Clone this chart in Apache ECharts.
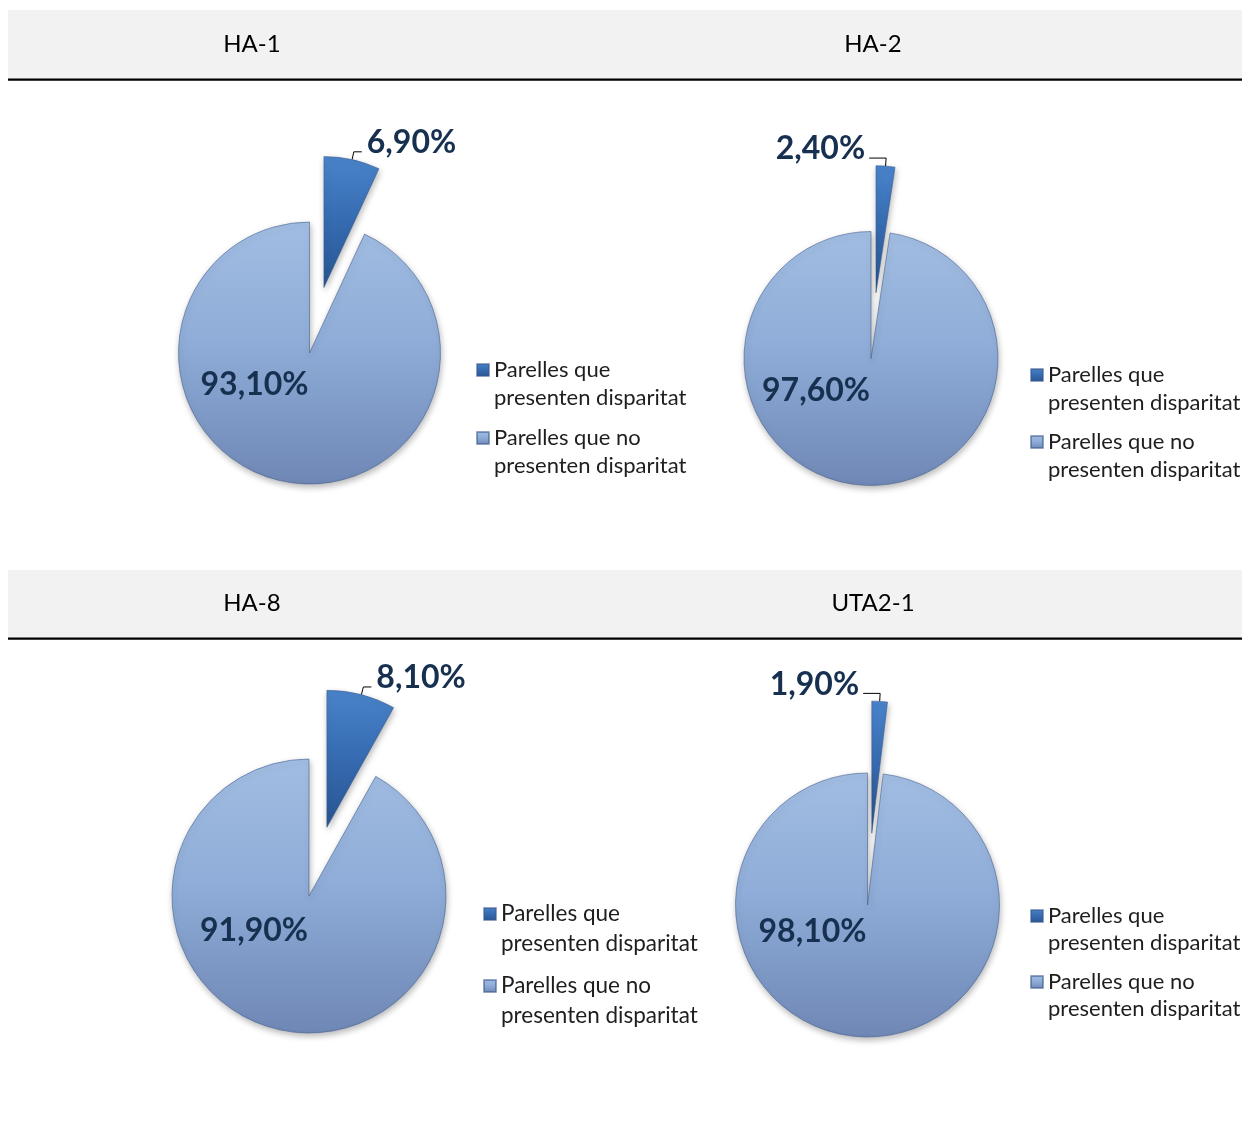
<!DOCTYPE html>
<html>
<head>
<meta charset="utf-8">
<script src="https://cdn.jsdelivr.net/npm/echarts@6/dist/echarts.min.js"></script>
<style>
  html, body { margin: 0; padding: 0; background: #ffffff; }
  #chart { width: 1242px; height: 1121px; }
</style>
</head>
<body>
<div id="chart"></div>
<script>
// Panel titles, slice names and percentages
const panelTitles = ['HA-1', 'HA-2', 'HA-8', 'UTA2-1'];
const sliceNames = ['Parelles que presenten disparitat', 'Parelles que no presenten disparitat'];
const legendLines = ['Parelles que\npresenten disparitat', 'Parelles que no\npresenten disparitat'];
const withDisparity = [6.9, 2.4, 8.1, 1.9];
const withoutDisparity = [93.1, 97.6, 91.9, 98.1];

const FONT = 'Lato, "Open Sans", sans-serif';

// Layout of each panel (pixels)
const panels = [
  { cx: 309.5, cy: 353, r: 131, offset: 67, bigDy: 32, side: 'right', headX: 252, headY: 44,
    legendX: 476, legendFirst: 370, lineH: 28, itemStep: 68, font: 22 },
  { cx: 871, cy: 358.5, r: 127, offset: 66, bigDy: 32.5, side: 'left', headX: 873, headY: 44,
    legendX: 1030, legendFirst: 375, lineH: 28, itemStep: 67, font: 22 },
  { cx: 309, cy: 896, r: 137, offset: 71, bigDy: 35, side: 'right', headX: 252, headY: 603,
    legendX: 483, legendFirst: 914, lineH: 30, itemStep: 72, font: 22.5 },
  { cx: 867.5, cy: 905, r: 132, offset: 72, bigDy: 27, side: 'left', headX: 873, headY: 603,
    legendX: 1030, legendFirst: 916, lineH: 27, itemStep: 66, font: 22 }
];
const bands = [ { y: 10, h: 69 }, { y: 570, h: 68 } ];
const LINE_LEN = 8, LINE_LEN2 = 8, LABEL_GAP = 5, LEFT_SHIFT = 8;

const grad = echarts.graphic.LinearGradient;
const darkFill = new grad(0, 0, 0, 1, [
  { offset: 0, color: '#4a84cb' },
  { offset: 0.45, color: '#376db3' },
  { offset: 1, color: '#285592' }
]);
const lightFill = new grad(0, 0, 0, 1, [
  { offset: 0, color: '#a2bde2' },
  { offset: 0.45, color: '#8fadd8' },
  { offset: 1, color: '#6f87b5' }
]);

const fmt = v => v.toFixed(2).replace('.', ',') + '%';

const graphics = [];
bands.forEach(b => {
  graphics.push({ type: 'rect', silent: true, shape: { x: 8, y: b.y, width: 1234, height: b.h }, style: { fill: '#f2f2f2' } });
  graphics.push({ type: 'rect', silent: true, shape: { x: 8, y: b.y + b.h - 0.5, width: 1234, height: 2.2 }, style: { fill: '#000000' } });
});
panels.forEach((p, i) => {
  graphics.push({ type: 'text', silent: true, x: p.headX, y: p.headY,
    style: { text: panelTitles[i], align: 'center', verticalAlign: 'middle', font: '24px ' + FONT, fill: '#000000' } });
});

const series = panels.map((p, i) => ({
  type: 'pie',
  name: panelTitles[i],
  center: [p.cx, p.cy],
  radius: p.r,
  startAngle: 90,
  clockwise: true,
  selectedMode: 'single',
  selectedOffset: p.offset,
  avoidLabelOverlap: false,
  silent: true,
  emphasis: { disabled: true },
  itemStyle: {
    borderColor: 'rgba(60,90,140,0.55)', borderWidth: 1,
    shadowBlur: 6, shadowColor: 'rgba(0,0,0,0.28)', shadowOffsetX: 1, shadowOffsetY: 3
  },
  label: {
    fontFamily: FONT, fontWeight: 'bold', fontSize: 32, color: '#17304f',
    formatter: prm => fmt(prm.value)
  },
  labelLine: { lineStyle: { color: '#000000', width: 1 } },
  labelLayout: prm => {
    if (prm.dataIndex === 1) {
      return { x: p.cx - 1, y: p.cy + p.bigDy, align: 'right', verticalAlign: 'middle' };
    }
    if (p.side === 'left' && prm.labelLinePoints) {
      // mirror the horizontal leg of the leader line and put the label on its left
      const pts = prm.labelLinePoints;
      const bend = pts[1];
      const end = [bend[0] - (pts[2][0] - bend[0]) - LEFT_SHIFT - 1, pts[2][1]];
      return {
        dx: -(prm.labelRect.width + 2 * LINE_LEN2 + 2 * LABEL_GAP) - LEFT_SHIFT,
        dy: -9,
        labelLinePoints: [pts[0], bend, end]
      };
    }
    return { dy: -9 };
  },
  data: [
    { name: sliceNames[0], value: withDisparity[i], selected: true,
      itemStyle: { color: darkFill },
      label: { show: true, position: 'outside', distanceToLabelLine: LABEL_GAP },
      labelLine: { show: true, length: LINE_LEN, length2: LINE_LEN2 } },
    { name: sliceNames[1], value: withoutDisparity[i],
      itemStyle: { color: lightFill },
      label: { show: true, position: 'inside' },
      labelLine: { show: false } }
  ]
}));

// Legend text: a leading blank line puts the first text line level with the swatch
const legends = panels.map(p => ({
  orient: 'vertical',
  left: p.legendX,
  top: p.legendFirst - 1.5 * p.lineH,
  padding: 0,
  itemWidth: 12, itemHeight: 12,
  itemGap: p.itemStep - 3 * p.lineH,
  selectedMode: false,
  icon: 'rect',
  data: sliceNames,
  formatter: name => '\n' + legendLines[sliceNames.indexOf(name)],
  textStyle: { fontFamily: FONT, fontSize: p.font, lineHeight: p.lineH, color: '#1e1e1e' }
}));

const chart = echarts.init(document.getElementById('chart'), null, { renderer: 'canvas' });
chart.setOption({
  backgroundColor: '#ffffff',
  animation: false,
  graphic: graphics,
  legend: legends,
  series: series
});
</script>
</body>
</html>
